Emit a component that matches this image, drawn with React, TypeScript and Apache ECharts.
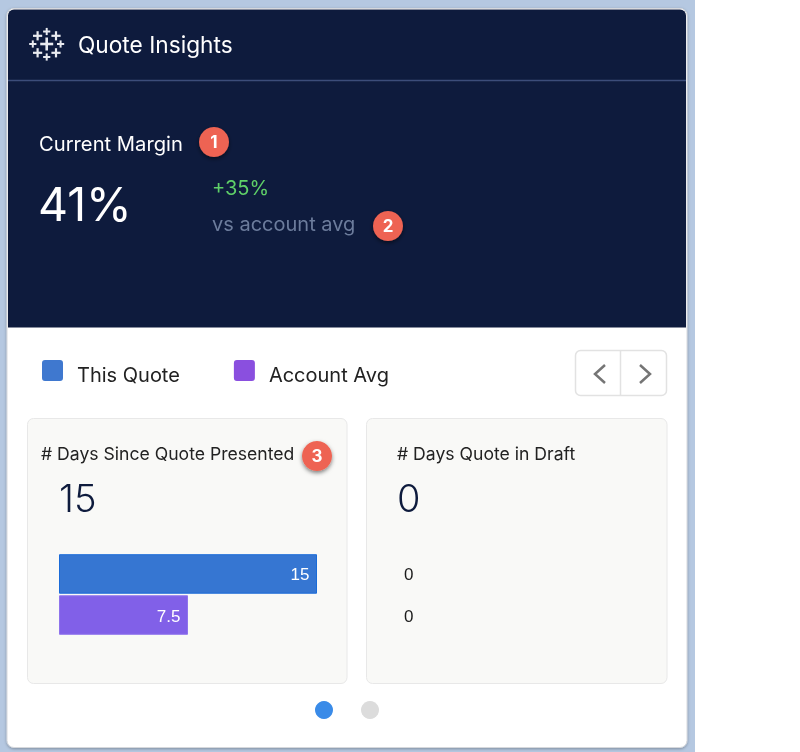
import React, { useEffect, useRef } from "react";
import * as echarts from "echarts";

const cardTitles = ["# Days Since Quote Presented", "# Days Quote in Draft"];
const thisQuote = [15, 0];
const accountAvg = [7.5, 0];
const axisMax = [15, 15];
const headline = ["15", "0"];

const NAVY = "#0e1b3d";
const FONT = "Inter";
const BAR_FONT = "Liberation Sans";

// swatch plus an empty stroke below it, so the legend text sits lower than the swatch
const SWATCH =
  "path://M3,0H18Q21,0 21,3V18Q21,21 18,21H3Q0,21 0,18V3Q0,0 3,0Z M0,29L0.01,29";

const logoCrosses = [
  [46.7, 44, 6.5, 2.6],
  [46.7, 31.5, 3.6, 2],
  [37.6, 35.8, 4.6, 2.2],
  [56, 35.8, 4.6, 2.2],
  [32.8, 44, 3.6, 2],
  [60.6, 44, 3.6, 2],
  [37.6, 52.8, 4.6, 2.2],
  [56, 52.8, 4.6, 2.2],
  [46.7, 57, 3.6, 2],
];

const badges = [
  [214, 142, "1"],
  [388, 226, "2"],
  [317, 456, "3"],
];

function text(x: number, y: number, value: string, fontSize: number, fill: string, extra: any = {}) {
  return {
    type: "text",
    x,
    y,
    style: { text: value, fontSize, fill, fontFamily: FONT, textVerticalAlign: "middle", ...extra },
  };
}

function barItem(value: number, color: string, border: string) {
  return {
    value,
    itemStyle: { color, borderColor: border, borderWidth: value > 0 ? 1 : 0 },
    label:
      value > 0
        ? { show: true, position: "insideRight", distance: 7.5, offset: [0, 1], color: "#fff", fontSize: 17, fontFamily: BAR_FONT }
        : { show: true, position: "right", distance: 7, offset: [0, 1], color: "#1c1c1c", fontSize: 17, fontFamily: BAR_FONT },
  };
}

const App: React.FC = () => {
  const chartRef = useRef<HTMLDivElement | null>(null);

  useEffect(() => {
    if (!chartRef.current) return;
    const chart = echarts.init(chartRef.current, undefined, { renderer: "svg" });

    const graphics: any[] = [
      { type: "rect", shape: { x: 0, y: 0, width: 695, height: 752 }, style: { fill: "#b5c8e1" } },
      {
        type: "rect",
        shape: { x: 7, y: 8.5, width: 680, height: 739, r: 7 },
        style: { fill: "#fff", stroke: "#d6d8dc", lineWidth: 1, shadowBlur: 3, shadowColor: "rgba(0,0,0,0.3)", shadowOffsetY: 1 },
      },
      {
        type: "rect",
        shape: { x: 8, y: 9.5, width: 678, height: 318, r: [6, 6, 0, 0] },
        style: { fill: NAVY },
      },
      { type: "line", shape: { x1: 8, y1: 80.5, x2: 686, y2: 80.5 }, style: { stroke: "#3c4d7a", lineWidth: 1.5 } },
      text(78, 44, "Quote Insights", 22.7, "#fff"),
      text(39, 143, "Current Margin", 20.2, "#fff"),
      text(38, 204, "41%", 46.5, "#fff"),
      text(212, 188, "+35%", 20, "#5fd068"),
      text(212, 223.5, "vs account avg", 20, "#6c7c9c"),
      // nav buttons
      {
        type: "rect",
        shape: { x: 575.5, y: 350.5, width: 91, height: 45, r: 5 },
        style: { fill: "#fff", stroke: "#e2e2e2", lineWidth: 1.5 },
      },
      { type: "line", shape: { x1: 620.5, y1: 351, x2: 620.5, y2: 395 }, style: { stroke: "#e2e2e2", lineWidth: 1.5 } },
      {
        type: "polyline",
        shape: { points: [[605, 365], [595, 374], [605, 383]] },
        style: { fill: "none", stroke: "#757575", lineWidth: 2.5 },
      },
      {
        type: "polyline",
        shape: { points: [[640, 365], [650, 374], [640, 383]] },
        style: { fill: "none", stroke: "#757575", lineWidth: 2.5 },
      },
      // kpi cards
      {
        type: "rect",
        shape: { x: 27.5, y: 418.5, width: 319.5, height: 265, r: 6 },
        style: { fill: "#f9f9f7", stroke: "#e8e8e8", lineWidth: 1 },
      },
      {
        type: "rect",
        shape: { x: 366.5, y: 418.5, width: 300.5, height: 265, r: 6 },
        style: { fill: "#f9f9f7", stroke: "#e8e8e8", lineWidth: 1 },
      },
      text(41, 453, cardTitles[0], 17.6, "#222"),
      text(397, 453, cardTitles[1], 17.6, "#222"),
      text(59, 498, headline[0], 38, NAVY, { fontWeight: 300 }),
      text(397, 498, headline[1], 38, NAVY, { fontWeight: 300 }),
      // pager
      { type: "circle", shape: { cx: 324, cy: 710, r: 9 }, style: { fill: "#3a8be8" } },
      { type: "circle", shape: { cx: 370, cy: 710, r: 9 }, style: { fill: "#dcdcdc" } },
    ];

    logoCrosses.forEach(([cx, cy, half, w]) => {
      graphics.push({
        type: "rect",
        shape: { x: cx - half, y: cy - w / 2, width: half * 2, height: w },
        style: { fill: "#e9ebf0" },
      });
      graphics.push({
        type: "rect",
        shape: { x: cx - w / 2, y: cy - half, width: w, height: half * 2 },
        style: { fill: "#e9ebf0" },
      });
    });

    badges.forEach(([cx, cy, label]) => {
      graphics.push({
        type: "circle",
        shape: { cx, cy, r: 15 },
        style: { fill: "#ee6352", shadowBlur: 4, shadowColor: "rgba(0,0,0,0.5)", shadowOffsetY: 2 },
      });
      graphics.push(
        text(cx as number, cy as number, label as string, 17, "#fff", { fontWeight: 700, textAlign: "center" })
      );
    });

    const options = {
      animation: false,
      graphic: { elements: graphics },
      legend: {
        left: 42,
        top: 360,
        padding: 0,
        itemWidth: 21,
        itemHeight: 29,
        itemGap: 54,
        icon: SWATCH,
        data: ["This Quote", "Account Avg"],
        selectedMode: false,
        textStyle: { fontFamily: FONT, fontSize: 20, color: "#222", padding: [0, 0, 0, 9] },
      },
      grid: [
        { left: 59, top: 554, width: 258, height: 81 },
        { left: 397, top: 554, width: 258, height: 81 },
      ],
      xAxis: axisMax.map((max, i) => ({ type: "value", gridIndex: i, min: 0, max, show: false })),
      yAxis: axisMax.map((_, i) => ({ type: "category", gridIndex: i, data: ["days"], inverse: true, show: false })),
      series: axisMax.flatMap((_, i) => [
        {
          name: "This Quote",
          type: "bar",
          xAxisIndex: i,
          yAxisIndex: i,
          barWidth: 39.5,
          barGap: "4%",
          itemStyle: { color: "#3f78cf" },
          data: [barItem(thisQuote[i], "#3676d2", "#1a6bd8")],
        },
        {
          name: "Account Avg",
          type: "bar",
          xAxisIndex: i,
          yAxisIndex: i,
          barWidth: 39.5,
          barGap: "4%",
          itemStyle: { color: "#8a4fdf" },
          data: [barItem(accountAvg[i], "#8160e8", "#8f74ec")],
        },
      ]),
    };

    chart.setOption(options);

    return () => {
      chart.dispose();
    };
  }, []);

  return <div ref={chartRef} style={{ position: "fixed", left: 0, top: 0, width: "800px", height: "752px" }} />;
};

export default App;
